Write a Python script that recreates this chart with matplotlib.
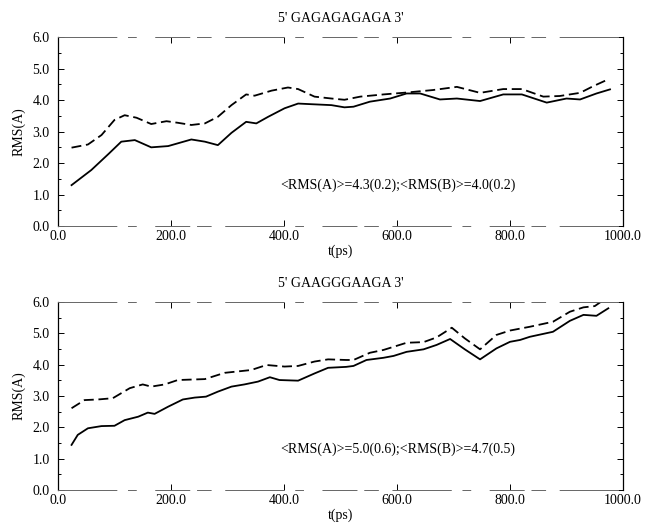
import numpy as np
import matplotlib as mpl
mpl.use("Agg")
from matplotlib import pyplot as plt
from matplotlib.ticker import MultipleLocator

mpl.rcParams['font.family'] = ['Liberation Serif', 'DejaVu Serif']
mpl.rcParams['font.size'] = 10

# top panel: 5' GAGAGAGAGA 3'
top_title = "5' GAGAGAGAGA 3'"
top_note = "<RMS(A)>=4.3(0.2);<RMS(B)>=4.0(0.2)"
top_solid_t = [24, 59, 90, 112, 136, 165, 195, 236, 260, 283, 307, 333, 351, 372, 401, 425,
               448, 484, 507, 523, 552, 588, 617, 641, 676, 706, 747, 788, 821, 865, 900,
               924, 953, 977]
top_solid = [1.30, 1.78, 2.30, 2.68, 2.73, 2.50, 2.54, 2.75, 2.68, 2.57, 2.96, 3.31, 3.26,
             3.47, 3.74, 3.89, 3.87, 3.84, 3.77, 3.79, 3.95, 4.05, 4.21, 4.21, 4.02, 4.05,
             3.97, 4.18, 4.18, 3.92, 4.05, 4.02, 4.21, 4.34]
top_dash_t = [24, 53, 77, 100, 118, 139, 165, 192, 212, 236, 260, 283, 307, 333, 348, 378,
              407, 425, 454, 484, 507, 535, 576, 617, 664, 706, 747, 788, 821, 859, 888,
              924, 947, 974]
top_dash = [2.49, 2.59, 2.89, 3.37, 3.52, 3.44, 3.24, 3.33, 3.28, 3.21, 3.26, 3.47, 3.84,
            4.18, 4.14, 4.30, 4.40, 4.35, 4.11, 4.05, 4.01, 4.11, 4.18, 4.24, 4.32, 4.42,
            4.23, 4.35, 4.35, 4.11, 4.13, 4.23, 4.44, 4.66]

# bottom panel: 5' GAAGGGAAGA 3'
bot_title = "5' GAAGGGAAGA 3'"
bot_note = "<RMS(A)>=5.0(0.6);<RMS(B)>=4.7(0.5)"
bot_solid_t = [24, 35, 53, 77, 100, 118, 142, 159, 171, 195, 221, 242, 262, 283, 307, 330,
               354, 375, 392, 425, 454, 478, 510, 523, 546, 576, 594, 617, 647, 670, 694,
               720, 747, 776, 800, 818, 835, 876, 906, 930, 953, 974]
bot_solid = [1.44, 1.76, 1.97, 2.04, 2.05, 2.23, 2.34, 2.47, 2.43, 2.66, 2.89, 2.95, 2.98,
             3.14, 3.30, 3.37, 3.46, 3.60, 3.51, 3.49, 3.72, 3.90, 3.93, 3.96, 4.15, 4.22,
             4.28, 4.41, 4.49, 4.63, 4.82, 4.49, 4.17, 4.52, 4.73, 4.79, 4.89, 5.05, 5.40,
             5.59, 5.56, 5.80]
bot_dash_t = [24, 47, 71, 97, 127, 150, 165, 189, 212, 260, 295, 342, 369, 401, 425, 454,
              478, 510, 523, 552, 576, 617, 647, 670, 697, 720, 747, 776, 800, 835, 876,
              906, 930, 950, 974]
bot_dash = [2.61, 2.87, 2.89, 2.93, 3.25, 3.37, 3.30, 3.37, 3.51, 3.54, 3.74, 3.83, 3.99,
            3.94, 3.96, 4.10, 4.17, 4.15, 4.15, 4.38, 4.47, 4.70, 4.72, 4.87, 5.18, 4.84,
            4.49, 4.95, 5.09, 5.21, 5.37, 5.69, 5.83, 5.87, 6.17]

fig = plt.figure(figsize=(6.45, 5.27), dpi=100)
ax1 = fig.add_axes([0.0899, 0.571, 0.876, 0.3586])
ax2 = fig.add_axes([0.0899, 0.0702, 0.876, 0.3567])

panels = [(ax1, top_title, top_note, top_solid_t, top_solid, top_dash_t, top_dash),
          (ax2, bot_title, bot_note, bot_solid_t, bot_solid, bot_dash_t, bot_dash)]

for ax, title, note, st, sv, dt, dv in panels:
    ax.plot(st, sv, color='black', lw=1.3)
    ax.plot(dt, dv, color='black', lw=1.3, dashes=(5.5, 2.6))
    ax.set_xlim(0, 1000)
    ax.set_ylim(0, 6)
    ax.xaxis.set_major_locator(MultipleLocator(200))
    ax.yaxis.set_major_locator(MultipleLocator(1))
    ax.yaxis.set_minor_locator(MultipleLocator(0.5))
    ax.xaxis.set_major_formatter(mpl.ticker.FormatStrFormatter('%.1f'))
    ax.yaxis.set_major_formatter(mpl.ticker.FormatStrFormatter('%.1f'))
    ax.tick_params(which='both', direction='in', top=True, right=True, width=0.7)
    ax.tick_params(which='major', length=4)
    ax.tick_params(axis='x', which='major', pad=3)
    ax.tick_params(axis='y', which='major', pad=6)
    ax.tick_params(which='minor', length=2)
    # scanned frame: solid sides, broken top/bottom
    for s in ['left', 'right']:
        ax.spines[s].set_linewidth(0.9)
    for s in ['top', 'bottom']:
        ax.spines[s].set_linewidth(0.7)
        ax.spines[s].set_color('0.4')
        ax.spines[s].set_linestyle((0, (60, 12, 8, 20, 35, 8, 14, 15)))
    ax.set_title(title, fontsize=10, pad=11)
    ax.set_xlabel("t(ps)", labelpad=1)
    ax.set_ylabel("RMS(A)", labelpad=5)
    ax.text(393, 1.3, note, va='center', ha='left', fontsize=10)

plt.savefig("out.png", dpi=100)
plt.close()
